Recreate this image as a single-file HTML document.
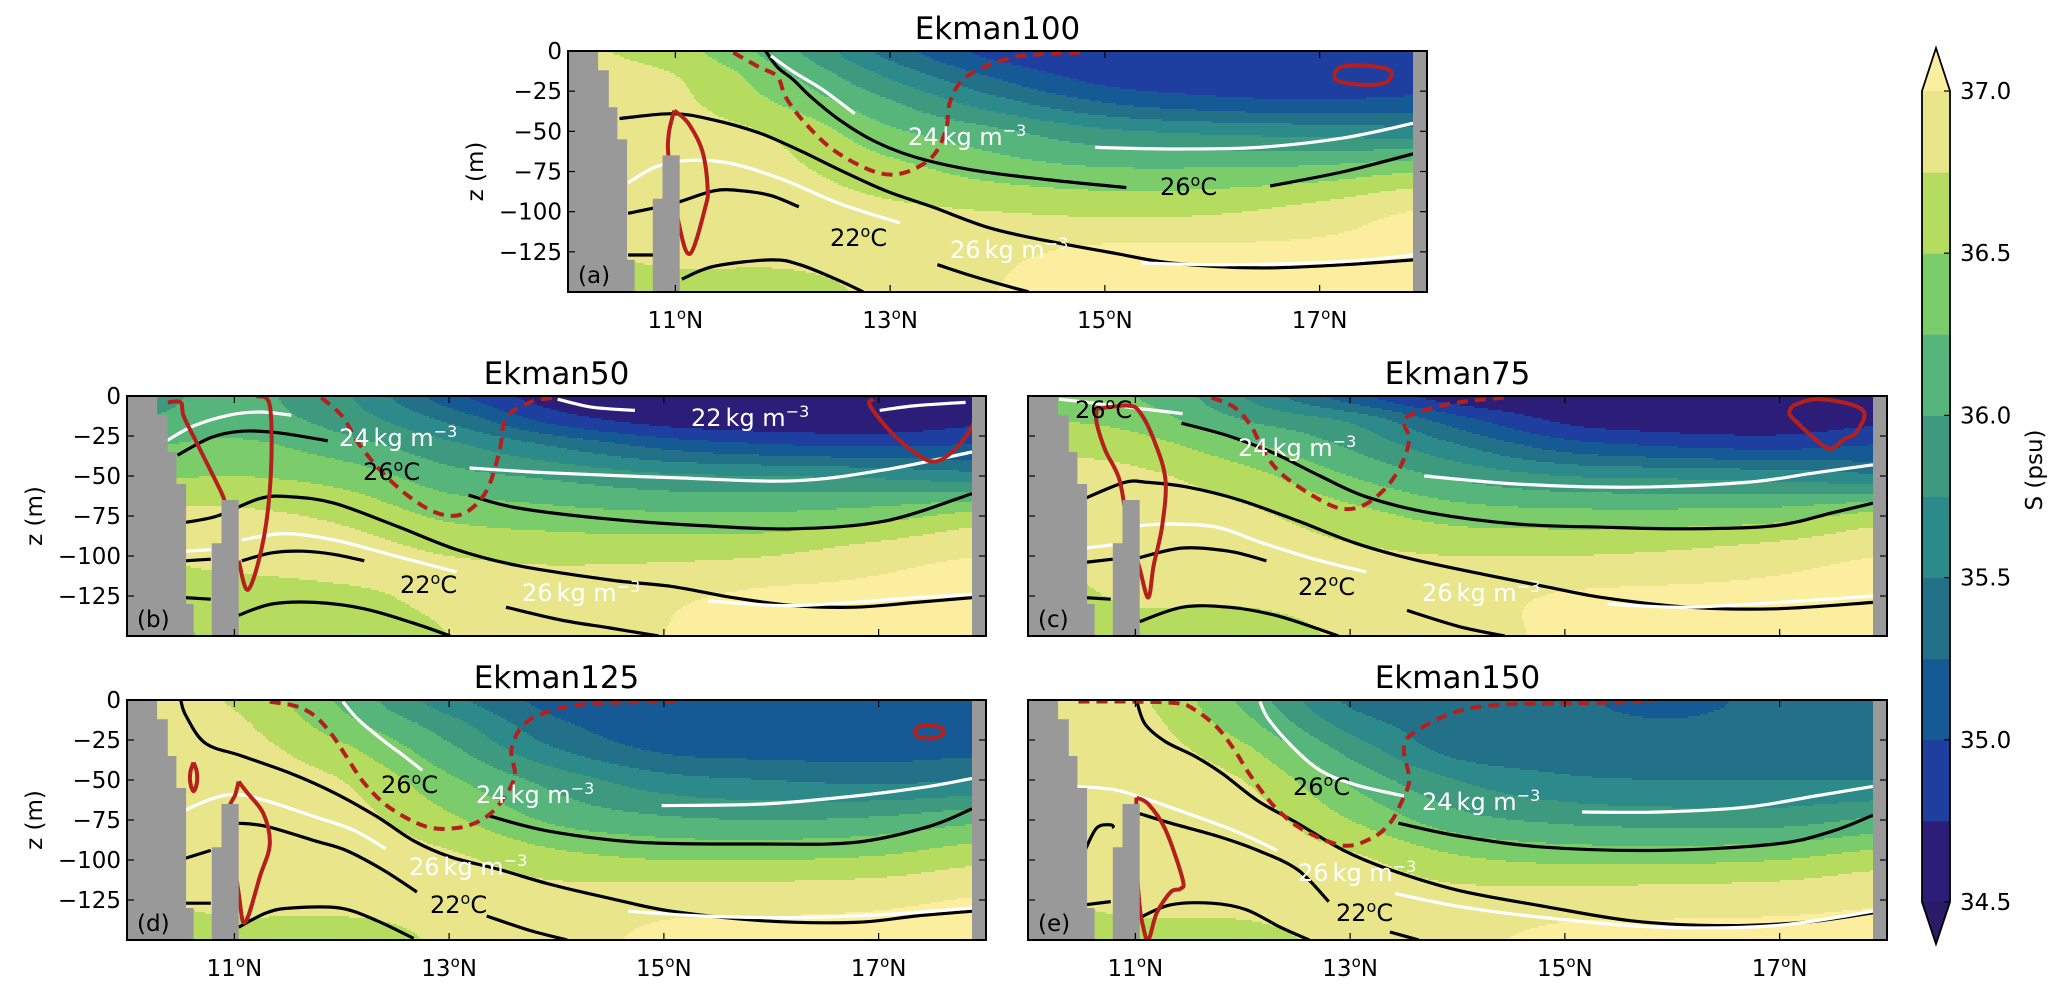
<!DOCTYPE html>
<html><head><meta charset="utf-8"><style>
html,body{margin:0;padding:0;background:#fff}
svg{display:block}
text{font-family:"DejaVu Sans","Liberation Sans",sans-serif}
</style></head><body>
<svg id="fig" xmlns="http://www.w3.org/2000/svg" width="2067" height="987" viewBox="0 0 2067 987">
<rect x="0" y="0" width="2067" height="987" fill="#fff"/>
</svg>
<script>
// ---------- shared data ----------
const lats=[10,11,12,13,14,15,16,17,18];
const depths=[0,-15,-30,-50,-75,-100,-125,-150];
const levels=[34.5,34.75,35.0,35.25,35.5,35.75,36.0,36.25,36.5,36.75,37.0];
const cbTicks=[37.0,36.5,36.0,35.5,35.0,34.5];
const xTicks=[11,13,15,17];
const yTicks=[0,-25,-50,-75,-100,-125];
const colors=['#2a1a68','#2b1d78','#1e3ea0','#155a94','#227189','#2d8a8a','#3d9a7f','#55b57b','#7bcc6a','#b5dc5e','#e9e58b','#fcee9f'];

// salinity grids: rows = depths, cols = lats
const salA=[
[36.8,36.6,36.1,35.4,34.9,34.85,34.85,34.85,34.9],
[36.85,36.75,36.3,35.7,35.2,34.9,34.88,34.88,34.9],
[36.9,36.8,36.45,36.0,35.55,35.2,35.05,35.0,35.05],
[36.9,36.85,36.7,36.3,36.05,35.8,35.7,35.65,35.6],
[36.9,36.88,36.8,36.6,36.4,36.3,36.3,36.35,36.5],
[36.9,36.9,36.85,36.8,36.75,36.7,36.72,36.85,37.02],
[36.7,36.85,36.85,36.9,36.95,37.05,37.05,37.05,37.05],
[36.6,36.6,36.6,36.85,37.0,37.1,37.1,37.1,37.1]];
const salB=[
[35.9,36.05,35.8,35.1,34.6,34.55,34.55,34.55,34.6],
[36.0,36.1,35.9,35.45,34.9,34.65,34.6,34.6,34.7],
[36.2,36.3,36.1,35.8,35.45,35.15,35.0,34.95,35.0],
[36.45,36.5,36.4,36.1,35.95,35.8,35.75,35.7,35.6],
[36.8,36.8,36.7,36.45,36.35,36.3,36.3,36.4,36.6],
[36.7,36.85,36.85,36.75,36.7,36.7,36.75,36.9,37.0],
[36.6,36.6,36.7,36.8,36.85,36.95,37.05,37.05,37.05],
[36.3,36.6,36.6,36.75,36.9,37.0,37.1,37.1,37.1]];
const salC=[
[36.3,36.25,35.75,35.1,34.6,34.55,34.55,34.55,34.6],
[36.5,36.4,36.0,35.7,35.1,34.7,34.62,34.62,34.7],
[36.7,36.6,36.3,35.95,35.5,35.1,34.95,34.9,35.0],
[36.85,36.8,36.6,36.25,35.95,35.75,35.7,35.65,35.55],
[36.85,36.85,36.8,36.6,36.4,36.35,36.35,36.4,36.6],
[36.8,36.85,36.85,36.8,36.75,36.75,36.8,36.9,37.0],
[36.6,36.8,36.8,36.85,36.9,37.02,37.05,37.05,37.05],
[36.5,36.6,36.6,36.8,36.9,37.05,37.1,37.1,37.1]];
const salD=[
[36.85,36.72,36.2,35.6,35.15,35.1,35.1,35.1,35.15],
[36.9,36.8,36.35,35.85,35.3,35.12,35.1,35.1,35.15],
[36.9,36.85,36.55,36.05,35.5,35.2,35.15,35.15,35.2],
[36.9,36.88,36.75,36.3,35.9,35.6,35.5,35.45,35.5],
[36.9,36.9,36.85,36.55,36.2,36.05,36.0,36.05,36.2],
[36.8,36.88,36.88,36.8,36.6,36.5,36.5,36.55,36.7],
[36.7,36.85,36.85,36.85,36.85,36.9,36.92,36.95,37.02],
[36.6,36.6,36.6,36.8,36.9,37.05,37.05,37.05,37.05]];
const salE=[
[36.85,36.8,36.2,35.45,35.32,35.3,35.15,35.35,35.4],
[36.9,36.85,36.35,35.65,35.35,35.32,35.28,35.36,35.4],
[36.9,36.87,36.55,35.9,35.4,35.35,35.35,35.38,35.4],
[36.9,36.9,36.75,36.2,35.75,35.55,35.5,35.5,35.5],
[36.9,36.9,36.88,36.5,36.1,35.95,35.9,35.9,36.05],
[36.8,36.88,36.88,36.8,36.55,36.45,36.45,36.5,36.65],
[36.7,36.85,36.85,36.88,36.85,36.88,36.9,36.92,36.97],
[36.6,36.6,36.65,36.85,36.95,37.05,37.05,37.05,37.05]];

// topography (lat, depth)
const shelf=[[10,0],[10.28,0],[10.28,-12],[10.38,-12],[10.38,-35],[10.46,-35],[10.46,-55],[10.55,-55],[10.55,-130],[10.62,-130],[10.62,-150],[10,-150]];
const seamount=[[10.79,-150],[10.79,-92],[10.88,-92],[10.88,-65],[11.04,-65],[11.04,-150]];
const eastWall=[[17.87,0],[18,0],[18,-150],[17.87,-150]];

// ---------- contour lines (lat, depth) ----------
const blackA=[
[[11.84,0],[11.95,-10],[12.1,-18],[12.27,-29],[12.53,-43],[12.85,-56],[13.23,-66],[13.76,-74],[14.45,-80],[15.2,-85]],
[[16.54,-84],[17.23,-75],[17.87,-64]],
[[10.48,-42],[10.98,-39],[11.36,-43],[11.78,-51],[12.16,-62],[12.53,-74],[12.96,-87],[13.39,-97],[13.92,-110],[14.45,-118],[15.1,-126],[15.63,-132],[16.43,-135],[17.23,-133],[17.87,-130]],
[[10.56,-101],[10.98,-95],[11.36,-87],[11.62,-87],[11.89,-90],[12.15,-97]],
[[10.56,-127],[10.8,-127]],
[[11.06,-142],[11.36,-134],[11.89,-130],[12.16,-133],[12.53,-143],[12.75,-150]],
[[13.44,-133],[13.81,-141],[14.29,-150]]];
const whiteA=[
[[11.89,-3],[12.1,-13],[12.37,-24],[12.67,-39]],
[[14.91,-60],[15.63,-61],[16.43,-60],[17.23,-54],[17.87,-45]],
[[10.56,-82],[10.82,-72],[11.14,-68],[11.52,-70],[12.0,-80],[12.53,-95],[13.09,-107]],
[[15.34,-132],[16.16,-133],[17.23,-131],[17.87,-127]]];
const redA=[
[[10.99,-37],[10.94,-51],[10.94,-68],[11.04,-110],[11.14,-126],[11.28,-97],[11.3,-85],[11.25,-62],[11.12,-45],[10.99,-37]],
[[17.13,-15],[17.2,-10],[17.4,-9],[17.62,-11],[17.67,-15],[17.6,-20],[17.4,-21],[17.18,-19],[17.13,-15]]];
const dashA=[
[[11.54,-1],[11.78,-10],[11.95,-16],[12.03,-29],[12.21,-45],[12.48,-62],[12.85,-75],[13.12,-76],[13.39,-66],[13.52,-49],[13.56,-31],[13.71,-16],[14.08,-5],[14.4,-2],[14.77,-1]]];

const blackB=[
[[10.47,-37],[10.78,-26],[11.07,-22],[11.41,-23],[11.87,-28]],
[[13.18,-62],[13.64,-70],[14.5,-77],[15.35,-81],[16.21,-83],[17.07,-78],[17.87,-61]],
[[10.54,-79],[10.84,-75],[11.24,-64],[11.53,-63],[11.93,-67],[12.5,-81],[13.07,-96],[13.64,-106],[14.5,-115],[15.07,-119],[15.64,-126],[16.21,-131],[16.78,-132],[17.35,-129],[17.87,-126]],
[[10.54,-103],[10.78,-102]],
[[11.07,-103],[11.35,-98],[11.64,-97],[11.93,-99],[12.21,-103]],
[[10.54,-126],[10.78,-127]],
[[11.04,-137],[11.35,-130],[11.75,-129],[12.21,-133],[12.67,-142],[13.01,-150]],
[[13.53,-132],[14.04,-140],[14.5,-145],[14.95,-150]]];
const whiteB=[
[[10.37,-28],[10.61,-19],[10.95,-12],[11.24,-10],[11.53,-12]],
[[14.01,-2],[14.33,-7],[14.73,-9]],
[[17.01,-9],[17.35,-6],[17.81,-4]],
[[13.19,-45],[13.93,-48],[15.07,-51],[16.21,-53],[17.07,-46],[17.87,-35]],
[[10.54,-97],[10.78,-96]],
[[11.07,-90],[11.47,-86],[11.93,-90],[12.5,-100],[13.07,-110]],
[[15.41,-128],[16.21,-131],[17.35,-126],[17.87,-124]]];
const redB=[
[[10.38,-4],[10.5,-4],[10.53,-13],[10.67,-32],[10.87,-59],[10.91,-66]],
[[11.21,0],[11.33,-6],[11.34,-48],[11.27,-90],[11.13,-121],[11.04,-103]],
[[16.95,-2],[16.92,-6],[17.12,-23],[17.35,-36],[17.52,-41],[17.7,-34],[17.87,-19],[17.95,-1]]];
const dashB=[
[[11.81,-1],[12.01,-13],[12.15,-29],[12.38,-48],[12.67,-65],[12.93,-74],[13.15,-73],[13.35,-59],[13.47,-34],[13.53,-14],[13.75,-4],[13.98,-1]]];

const blackC=[
[[11.43,-17],[11.87,-25],[12.3,-36],[12.72,-50],[13.15,-63],[13.74,-73],[14.55,-80],[15.35,-82],[16.15,-83],[16.96,-81],[17.49,-73],[17.87,-67]],
[[10.53,-64],[10.9,-54],[11.12,-54],[11.49,-57],[11.97,-65],[12.51,-78],[13.05,-92],[13.58,-102],[14.28,-112],[14.81,-119],[15.35,-126],[16.15,-132],[16.96,-133],[17.87,-129]],
[[10.53,-104],[10.79,-102]],
[[11.04,-101],[11.44,-95],[11.87,-97],[12.22,-103]],
[[10.53,-126],[10.77,-127]],
[[11.04,-141],[11.44,-132],[11.87,-132],[12.3,-137],[12.72,-146],[12.89,-150]],
[[13.53,-134],[14.01,-144],[14.44,-150]]];
const whiteC=[
[[10.29,-2],[10.69,-5],[11.06,-8],[11.44,-11]],
[[13.69,-50],[14.55,-55],[15.62,-57],[16.69,-54],[17.33,-48],[17.87,-43]],
[[10.53,-95],[10.79,-93]],
[[11.04,-81],[11.33,-80],[11.76,-82],[12.19,-92],[12.67,-102],[13.15,-110]],
[[15.4,-130],[16.15,-132],[17.22,-128],[17.87,-125]]];
const redC=[
[[10.64,-8],[10.93,-6],[11.04,-10],[11.17,-27],[11.28,-52],[11.25,-81],[11.17,-106],[11.12,-126],[11.04,-108],[10.93,-81],[10.85,-52],[10.72,-34],[10.64,-17],[10.64,-8]],
[[17.12,-6],[17.33,-2],[17.65,-5],[17.79,-11],[17.71,-23],[17.6,-27],[17.47,-33],[17.33,-27],[17.17,-17],[17.09,-11],[17.12,-6]]];
const dashC=[
[[11.71,-1],[11.92,-7],[12.08,-19],[12.19,-34],[12.35,-48],[12.62,-61],[12.89,-70],[13.1,-69],[13.31,-59],[13.47,-44],[13.55,-27],[13.5,-15],[13.69,-9],[14.01,-4],[14.44,-1]]];

const blackD=[
[[10.5,0],[10.55,-10],[10.73,-27],[11.07,-35],[11.53,-46],[11.93,-58],[12.33,-73],[12.67,-88],[13.01,-98],[13.47,-106],[13.93,-115],[14.5,-124],[15.07,-132],[15.93,-138],[16.78,-139],[17.35,-135],[17.87,-132]],
[[13.35,-72],[13.93,-82],[14.78,-89],[15.93,-90],[16.78,-89],[17.47,-79],[17.87,-68]],
[[10.54,-99],[10.78,-94]],
[[11.04,-77],[11.3,-79],[11.75,-88],[12.04,-94],[12.38,-106],[12.7,-120]],
[[10.54,-127],[10.78,-127]],
[[11.04,-142],[11.3,-133],[11.53,-130],[11.98,-130],[12.33,-138],[12.67,-149]],
[[13.35,-135],[13.75,-144],[14.1,-150]]];
const whiteD=[
[[12.01,-1],[12.15,-12],[12.38,-25],[12.58,-35],[12.75,-44]],
[[14.98,-66],[15.93,-65],[16.78,-60],[17.47,-54],[17.87,-49]],
[[10.54,-69],[10.78,-62],[11.01,-59],[11.3,-63],[11.75,-73],[12.1,-81],[12.41,-93]],
[[14.67,-132],[15.35,-135],[16.21,-136],[17.07,-134],[17.87,-130]]];
const redD=[
[[10.62,-39],[10.65,-45],[10.65,-52],[10.62,-57],[10.59,-52],[10.59,-45],[10.62,-39]],
[[11.04,-51],[11.12,-58],[11.27,-71],[11.33,-90],[11.24,-110],[11.1,-139],[11.04,-121],[10.95,-73],[11.01,-59],[11.04,-51]],
[[17.33,-20],[17.38,-16.5],[17.47,-16],[17.57,-17],[17.61,-20],[17.56,-23],[17.47,-24],[17.37,-23],[17.33,-20]]];
const dashD=[
[[11.33,-1],[11.58,-4],[11.75,-10],[11.9,-21],[12.04,-35],[12.21,-52],[12.44,-67],[12.78,-79],[13.07,-80],[13.3,-75],[13.47,-65],[13.61,-48],[13.58,-31],[13.7,-15],[13.98,-6],[14.38,-2],[15.13,-1]]];

const blackE=[
[[11.01,0],[11.09,-15],[11.28,-26],[11.55,-35],[11.81,-46],[12.14,-63],[12.51,-77],[12.94,-94],[13.37,-106],[14.01,-119],[14.81,-129],[15.62,-138],[16.42,-141],[17.22,-139],[17.87,-133]],
[[13.45,-77],[14.01,-85],[14.81,-92],[15.88,-94],[16.96,-90],[17.49,-82],[17.87,-72]],
[[10.53,-94],[10.64,-80],[10.77,-78],[10.8,-80]],
[[11.04,-71],[11.33,-77],[11.76,-85],[12.14,-94],[12.51,-106],[12.8,-126]],
[[10.53,-128],[10.77,-126]],
[[11.04,-136],[11.33,-128],[11.71,-127],[12.03,-131],[12.35,-142],[12.62,-150]],
[[13.37,-145],[13.64,-150]]];
const whiteE=[
[[12.16,-1],[12.24,-12],[12.46,-29],[12.72,-44],[13.05,-53],[13.5,-60]],
[[15.16,-70],[15.88,-70],[16.69,-67],[17.33,-60],[17.87,-54]],
[[10.45,-54],[10.8,-56],[11.06,-61],[11.49,-71],[11.97,-83],[12.32,-94]],
[[13.42,-121],[14.01,-129],[14.81,-136],[15.88,-142],[16.96,-141],[17.87,-132]]];
const redE=[
[[11.01,-61],[11.12,-65],[11.28,-81],[11.44,-112],[11.42,-118],[11.33,-120],[11.2,-133],[11.12,-150],[11.07,-141],[11.04,-129],[11.01,-100],[11.01,-61]]];
const dashE=[
[[10.47,-1],[10.95,-1],[11.39,-2],[11.55,-6],[11.76,-17],[11.92,-31],[12.08,-48],[12.3,-67],[12.56,-81],[12.94,-91],[13.21,-86],[13.37,-77],[13.47,-65],[13.55,-50],[13.5,-31],[13.58,-21],[13.96,-8],[14.39,-3],[15.08,-2],[15.83,-1]]];

// ---------- layout ----------
const NS='http://www.w3.org/2000/svg';
const fig=document.getElementById('fig');
const panels=[
 {id:'a',title:'Ekman100',L:568,T:51,W:859,H:241,sal:salA,blk:blackA,wht:whiteA,red:redA,dash:dashA,ylab:true,xlab:true},
 {id:'b',title:'Ekman50',L:127,T:396,W:859,H:240,sal:salB,blk:blackB,wht:whiteB,red:redB,dash:dashB,ylab:true,xlab:false},
 {id:'c',title:'Ekman75',L:1028,T:396,W:859,H:240,sal:salC,blk:blackC,wht:whiteC,red:redC,dash:dashC,ylab:false,xlab:false},
 {id:'d',title:'Ekman125',L:127,T:700,W:859,H:240,sal:salD,blk:blackD,wht:whiteD,red:redD,dash:dashD,ylab:true,xlab:true},
 {id:'e',title:'Ekman150',L:1028,T:700,W:859,H:240,sal:salE,blk:blackE,wht:whiteE,red:redE,dash:dashE,ylab:false,xlab:true}
];
const labels={
 a:[['w','24',908,145],['k','26',1160,195],['k','22',830,246],['w','26',950,258]],
 b:[['w','22',691,426],['w','24',339,446],['k','26',363,480],['k','22',400,593],['w','26',522,601]],
 c:[['k','26',1075,418],['w','24',1238,456],['k','22',1298,595],['w','26',1422,601]],
 d:[['k','26',381,793],['w','24',476,803],['w','26',409,875],['k','22',430,913]],
 e:[['k','26',1293,795],['w','24',1422,810],['w','26',1298,881],['k','22',1336,921]]
};

function el(tag,attrs,parent){const e=document.createElementNS(NS,tag);for(const k in attrs)e.setAttribute(k,attrs[k]);(parent||fig).appendChild(e);return e;}
function cr(p0,p1,p2,p3,t){const t2=t*t,t3=t2*t;return 0.5*((2*p1)+(-p0+p2)*t+(2*p0-5*p1+4*p2-p3)*t2+(-p0+3*p1-3*p2+p3)*t3);}
function rowAt(g,j,fi){
 const n=lats.length;const i=Math.min(n-2,Math.max(0,Math.floor(fi)));const t=fi-i;
 const r=g[j];return cr(r[Math.max(0,i-1)],r[i],r[i+1],r[Math.min(n-1,i+2)],t);
}
function sample(g,lat,d){
 let fi=Math.max(0,Math.min(lats.length-1,(lat-lats[0])/(lats[1]-lats[0])));
 let j=0;while(j<depths.length-2&&d<depths[j+1])j++;
 let v=(d-depths[j])/(depths[j+1]-depths[j]);v=Math.max(0,Math.min(1,v));
 const m=depths.length;
 return cr(rowAt(g,Math.max(0,j-1),fi),rowAt(g,j,fi),rowAt(g,j+1,fi),rowAt(g,Math.min(m-1,j+2),fi),v);
}
function colorOf(s){let k=0;while(k<levels.length&&s>=levels[k])k++;return colors[k];}
function smoothPath(pts,closed){
 if(pts.length<3){return 'M'+pts.map(p=>p[0].toFixed(1)+' '+p[1].toFixed(1)).join(' L');}
 let s='M'+pts[0][0].toFixed(1)+' '+pts[0][1].toFixed(1);
 for(let i=0;i<pts.length-1;i++){
  const p0=pts[Math.max(0,i-1)],p1=pts[i],p2=pts[i+1],p3=pts[Math.min(pts.length-1,i+2)];
  const c1=[p1[0]+(p2[0]-p0[0])/6,p1[1]+(p2[1]-p0[1])/6];
  const c2=[p2[0]-(p3[0]-p1[0])/6,p2[1]-(p3[1]-p1[1])/6];
  s+=' C'+c1[0].toFixed(1)+' '+c1[1].toFixed(1)+' '+c2[0].toFixed(1)+' '+c2[1].toFixed(1)+' '+p2[0].toFixed(1)+' '+p2[1].toFixed(1);
 }
 return s+(closed?' Z':'');
}

panels.forEach(p=>{
 const X=lat=>p.L+(lat-10)/8*p.W;
 const Y=d=>p.T+(-d)/150*p.H;
 const g=el('g',{});
 
 
 const cp=el('clipPath',{id:'clip'+p.id},g);
 el('rect',{x:p.L,y:p.T,width:p.W,height:p.H},cp);
 const field=el('g',{'clip-path':'url(#clip'+p.id+')','shape-rendering':'crispEdges'},g);
 
 
 const step=2,rows=Math.ceil(p.H/step),cols=Math.ceil(p.W/step);
 for(let r=0;r<rows;r++){
  const d=-((r+0.5)*step)/p.H*150;
  let start=0,cur=null;
  for(let c=0;c<=cols;c++){
   const col=c<cols?colorOf(sample(p.sal,10+((c+0.5)*step)/p.W*8,d)):null;
   if(col!==cur){
    if(cur!==null){
     const rc=el('rect',{x:p.L+start*step,y:p.T+r*step,width:(c-start)*step+0.6,height:step+0.6,fill:cur},field);
     
     
    }
    cur=col;start=c;
   }
  }
 }
 const lines=el('g',{'clip-path':'url(#clip'+p.id+')',fill:'none','stroke-linecap':'butt','stroke-linejoin':'round'},g);
 p.blk.forEach(l=>{const e=el('path',{d:smoothPath(l.map(q=>[X(q[0]),Y(q[1])])),stroke:'#000','stroke-width':3.2},lines);
  
  });
 p.wht.forEach(l=>{const e=el('path',{d:smoothPath(l.map(q=>[X(q[0]),Y(q[1])])),stroke:'#fff','stroke-width':3.2},lines);
  
  });
 p.red.forEach(l=>{const e=el('path',{d:smoothPath(l.map(q=>[X(q[0]),Y(q[1])])),stroke:'#b5201e','stroke-width':4},lines);
  
  });
 p.dash.forEach(l=>{const e=el('path',{d:smoothPath(l.map(q=>[X(q[0]),Y(q[1])])),stroke:'#b5201e','stroke-width':4,'stroke-dasharray':'11 7'},lines);
  
  });
 [shelf,seamount,eastWall].forEach((poly,k)=>{
  const e=el('polygon',{points:poly.map(q=>X(q[0]).toFixed(1)+','+Y(q[1]).toFixed(1)).join(' '),fill:'#999999'},g);
  
  
 });
 labels[p.id].forEach(lb=>{
  const t=el('text',{x:lb[2],y:lb[3],'font-size':24,fill:lb[0]==='w'?'#fff':'#000'},g);
  
  
  if(lb[0]==='w'){t.innerHTML=lb[1]+'<tspan dx="4">kg m</tspan><tspan dy="-9" font-size="16">−3</tspan>';}
  else{t.innerHTML=lb[1]+'<tspan dy="-9" font-size="16">o</tspan><tspan dy="9">C</tspan>';}
 });
 const fr=el('rect',{x:p.L,y:p.T,width:p.W,height:p.H,fill:'none',stroke:'#000','stroke-width':2},g);
 
 
 xTicks.forEach(v=>{
  const x=X(v);
  const t1=el('line',{x1:x,y1:p.T+p.H,x2:x,y2:p.T+p.H-7,stroke:'#000','stroke-width':1.2},g);
  
  
  const t2=el('line',{x1:x,y1:p.T,x2:x,y2:p.T+7,stroke:'#000','stroke-width':1.2},g);
  
  
  if(p.xlab){
   const tx=el('text',{x:x,y:p.T+p.H+36,'font-size':23,'text-anchor':'middle'},g);
   
   
   tx.innerHTML=v+'<tspan dy="-9" font-size="15">o</tspan><tspan dy="9">N</tspan>';
  }
 });
 yTicks.forEach(v=>{
  const y=Y(v);
  const t1=el('line',{x1:p.L,y1:y,x2:p.L+7,y2:y,stroke:'#000','stroke-width':1.2},g);
  
  
  const t2=el('line',{x1:p.L+p.W,y1:y,x2:p.L+p.W-7,y2:y,stroke:'#000','stroke-width':1.2},g);
  
  
  if(p.ylab){
   const ty=el('text',{x:p.L-6,y:y+8,'font-size':23,'text-anchor':'end'},g);
   
   
   ty.textContent=v===0?'0':'−'+Math.abs(v);
  }
 });
 if(p.ylab){
  const yl=el('text',{x:0,y:0,'font-size':23,'text-anchor':'middle',transform:'translate('+(p.L-85)+','+(p.T+p.H/2)+') rotate(-90)'},g);
  
  
  yl.textContent='z (m)';
 }
 const ti=el('text',{x:p.L+p.W/2,y:p.T-12,'font-size':31,'text-anchor':'middle'},g);
 
 
 ti.textContent=p.title;
 const pl=el('text',{x:p.L+10,y:p.T+p.H-9,'font-size':23},g);
 
 
 pl.textContent='('+p.id+')';
});

// ---------- colorbar ----------
(function(){
 const cx=1922,cw=28,top=91,bot=902;
 const CY=v=>bot-(v-34.5)/2.5*(bot-top);
 const g=el('g',{});
 
 
 for(let k=0;k<levels.length-1;k++){
  const r=el('rect',{x:cx,y:CY(levels[k+1]),width:cw,height:CY(levels[k])-CY(levels[k+1])+0.5,fill:colors[k+1]},g);
  
  
 }
 const tu=el('polygon',{points:cx+','+top+' '+(cx+cw)+','+top+' '+(cx+cw/2)+',48',fill:colors[11]},g);
 
 
 const td=el('polygon',{points:cx+','+bot+' '+(cx+cw)+','+bot+' '+(cx+cw/2)+',944',fill:colors[0]},g);
 
 
 const ol=el('polygon',{points:cx+','+top+' '+(cx+cw/2)+',48 '+(cx+cw)+','+top+' '+(cx+cw)+','+bot+' '+(cx+cw/2)+',944 '+cx+','+bot,fill:'none',stroke:'#000','stroke-width':1.8},g);
 
 
 cbTicks.forEach(v=>{
  const y=CY(v);
  const tk=el('line',{x1:cx+cw-6,y1:y,x2:cx+cw,y2:y,stroke:'#000','stroke-width':1.2},g);
  
  
  const t=el('text',{x:cx+cw+10,y:y+8,'font-size':23},g);
  
  
  t.textContent=v.toFixed(1);
 });
 const lab=el('text',{x:0,y:0,'font-size':23,'text-anchor':'middle',transform:'translate(2042,470) rotate(-90)'},g);
 
 
 lab.textContent='S (psu)';
})();
</script>
</body></html>
